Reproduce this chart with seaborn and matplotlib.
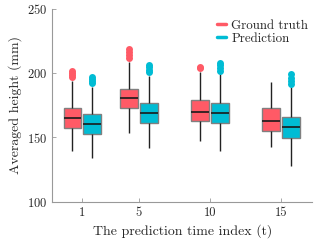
import numpy as np
import pandas as pd
import seaborn as sns
from matplotlib import pyplot as plt
from matplotlib.lines import Line2D

# time indices shown on the x axis
steps = [1, 5, 10, 15]
series_names = ["Ground truth", "Prediction"]
colors = ["#ff5a66", "#00bcd4"]

# averaged heights (mm) per time index
gt_t1 = [139.5, 144, 148, 152, 155, 157.5, 159, 160.5, 162, 163.5, 165.3,
         167, 168.5, 170, 171.5, 173.1, 194.2, 197, 198.5, 200, 201.5]
pred_t1 = [134.1, 139, 143, 147, 150, 152.3, 154, 155.5, 157, 158.5, 160.2,
           162, 163.5, 165, 166.5, 168, 189.5, 192.2, 193.7, 195.2, 196.7]
gt_t5 = [153.6, 158, 162, 166, 169.5, 172.7, 174.5, 176, 177.5, 179, 180.5,
         182, 183.5, 185, 186.5, 187.7, 209, 211.5, 214, 216.5, 219]
pred_t5 = [141.4, 146, 150, 154, 158, 161, 162.5, 164, 165.5, 167, 168.8,
           170.5, 172, 173.5, 175, 176.6, 198, 200.7, 202.5, 204.5, 206.5]
gt_t10 = [147.4, 151, 154, 157, 160, 163, 164.5, 166, 167, 168.3, 169.5,
          171.5, 173.5, 175.5, 177.5, 179.1, 183, 190, 201, 203.7, 204.7]
pred_t10 = [139.5, 145, 149, 153, 157, 161, 162.5, 164.5, 166, 167.7, 169.2,
            171, 172.5, 174, 175.5, 177, 199.5, 202, 204, 206, 207.7]
gt_t15 = [142.7, 145, 147.5, 150, 152.5, 155.2, 157, 158.5, 160, 161.5, 162.8,
          165, 167, 169, 171, 172.7, 176, 180, 185, 190, 193.4]
pred_t15 = [127.8, 133, 138, 142, 146, 149.7, 151.5, 153, 154.5, 156, 157.8,
            159.5, 161, 162.7, 164.5, 166.1, 189.3, 191.5, 194, 196.5, 199]

groups = {
    (1, "Ground truth"): gt_t1, (1, "Prediction"): pred_t1,
    (5, "Ground truth"): gt_t5, (5, "Prediction"): pred_t5,
    (10, "Ground truth"): gt_t10, (10, "Prediction"): pred_t10,
    (15, "Ground truth"): gt_t15, (15, "Prediction"): pred_t15,
}
rows = []
for (t, name), vals in groups.items():
    for v in vals:
        rows.append({"t": t, "series": name, "height": v})
df = pd.DataFrame(rows)

sns.set_style("ticks")
plt.rcParams["font.family"] = ["cmr10"]
plt.rcParams["mathtext.fontset"] = "cm"
plt.rcParams["axes.formatter.use_mathtext"] = True

fig = plt.figure(figsize=(3.32, 2.49), dpi=100)
ax = fig.add_axes([0.1575, 0.19, 0.7832, 0.7746])

sns.boxplot(data=df, x="t", y="height", hue="series", hue_order=series_names,
            palette=colors, native_scale=True, width=0.7, gap=0.13,
            saturation=1, showcaps=False, linewidth=1,
            boxprops=dict(edgecolor="#808080"),
            whiskerprops=dict(color="#222222"),
            medianprops=dict(color="#1a1a1a", linewidth=1.2),
            flierprops=dict(marker="o", markersize=5, markeredgewidth=0),
            legend=False, ax=ax)

# colour the fliers by the series they belong to
for ln in ax.lines:
    if ln.get_marker() == "o" and len(ln.get_xdata()) > 0:
        x0 = np.mean(ln.get_xdata())
        near = min(steps, key=lambda s: abs(s - x0))
        c = colors[0] if x0 < near else colors[1]
        ln.set_markerfacecolor(c)
        ln.set_markeredgecolor(c)

ax.set_xlim(-1.1, 17.2)
ax.set_ylim(100, 250)
ax.set_xticks(steps)
ax.set_xticklabels([str(s) for s in steps])
ax.set_yticks([100, 150, 200, 250])
ax.set_xlabel("The prediction time index (t)", fontsize=10)
ax.set_ylabel("Averaged height (mm)", fontsize=10)
ax.tick_params(direction="in", length=3, width=0.6, color="#999999", labelsize=9)
sns.despine(ax=ax)
for sp in ["left", "bottom"]:
    ax.spines[sp].set_color("#999999")
    ax.spines[sp].set_linewidth(0.8)

handles = [Line2D([0], [0], color=c, lw=2.5) for c in colors]
ax.legend(handles, series_names, loc="upper left", frameon=False, fontsize=9.3,
          handlelength=0.7, handletextpad=0.45, labelspacing=0.1,
          borderpad=0, borderaxespad=0, bbox_to_anchor=(0.632, 0.945))

fig.savefig("out.png", dpi=100)
